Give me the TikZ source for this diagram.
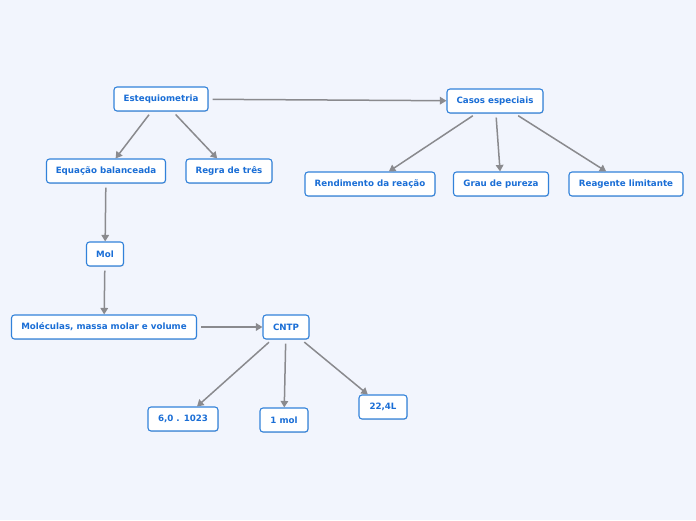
\documentclass[tikz,border=0pt]{standalone}
\usepackage{fontspec}
\setmainfont{DejaVu Sans}
\usetikzlibrary{arrows.meta,shadows}

\definecolor{bgcol}{RGB}{242,245,253}
\definecolor{boxline}{RGB}{50,130,218}
\definecolor{boxtext}{RGB}{26,110,214}
\definecolor{linkcol}{RGB}{138,138,142}

\tikzset{every picture/.style={line width=0.75pt}}
\tikzset{
  topic/.style={draw=boxline, line width=1.1pt, fill=white, rounded corners=3pt,
    text=boxtext, font=\bfseries\fontsize{8.7}{10}\selectfont,
    minimum height=24pt, inner xsep=4pt,
    drop shadow={shadow xshift=0.6pt, shadow yshift=-0.8pt, opacity=0.25}},
  link/.style={draw=linkcol, line width=1.5pt, shorten <=4pt,
    -{Triangle[length=6.5pt,width=7.5pt]}}
}

\begin{document}
\begin{tikzpicture}[x=1pt, y=-1pt]
        \fill[bgcol] (0,0) rectangle (696,520);
        \useasboundingbox (0,0) rectangle (696,520);
        % nodes
        \node[topic, minimum width=94pt] (est) at (161,99) {Estequiometria};
        \node[topic, minimum width=96pt] (casos) at (495,101) {Casos especiais};
        \node[topic, minimum width=119pt] (eqb) at (106,171) {Equação balanceada};
        \node[topic, minimum width=86pt] (regra) at (229,171) {Regra de três};
        \node[topic, minimum width=37pt] (mol) at (105,254) {Mol};
        \node[topic, minimum width=185pt] (molec) at (104,327) {Moléculas, massa molar e volume};
        \node[topic, minimum width=46pt] (cntp) at (286,327) {CNTP};
        \node[topic, minimum width=70pt] (avog) at (183,419) {6,0 . 1023};
        \node[topic, minimum width=48pt] (umol) at (284,420) {1 mol};
        \node[topic, minimum width=48pt] (vol) at (383,407) {22,4L};
        \node[topic, minimum width=130pt] (rend) at (370,184) {Rendimento da reação};
        \node[topic, minimum width=95pt] (grau) at (501,184) {Grau de pureza};
        \node[topic, minimum width=114pt] (reag) at (626,184) {Reagente limitante};
        % links
        \draw[link] (est) -- (casos);
        \draw[link] (est) -- (eqb);
        \draw[link] (est) -- (regra);
        \draw[link] (eqb) -- (mol);
        \draw[link] (mol) -- (molec);
        \draw[link] (molec) -- (cntp);
        \draw[link] (cntp) -- (avog);
        \draw[link] (cntp) -- (umol);
        \draw[link] (cntp) -- (vol);
        \draw[link] (casos) -- (rend);
        \draw[link] (casos) -- (grau);
        \draw[link] (casos) -- (reag);
\end{tikzpicture}
\end{document}
